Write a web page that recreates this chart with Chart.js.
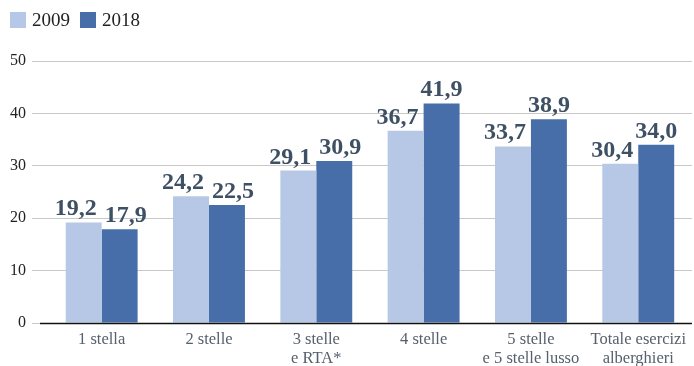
<!DOCTYPE html>
<html lang="it">
<head>
<meta charset="utf-8">
<script src="https://cdn.jsdelivr.net/npm/chart.js@4/dist/chart.umd.min.js"></script>
<style>
  html, body { margin: 0; padding: 0; background: #fff; }
  #wrap { position: relative; width: 694px; height: 366px; }
  #legend { position: absolute; left: 10px; top: 11px; display: flex; align-items: center;
    font: 19px "Liberation Serif", serif; color: #222; }
  #legend .sw { width: 16px; height: 16px; display: inline-block; margin-right: 6px; }
  #legend .it { display: flex; align-items: center; margin-right: 10px; line-height: 18px; }
</style>
</head>
<body>
<div id="wrap">
  <div id="legend"></div>
  <canvas id="ch" width="694" height="366"></canvas>
</div>
<script>
// Tasso di occupazione per categoria di esercizio
const CATEGORIES = [
  '1 stella',
  '2 stelle',
  ['3 stelle', 'e RTA*'],
  '4 stelle',
  ['5 stelle', 'e 5 stelle lusso'],
  ['Totale esercizi', 'alberghieri'],
];
const SERIES_NAMES = ['2009', '2018'];
const VALUES_2009 = [19.2, 24.2, 29.1, 36.7, 33.7, 30.4];
const VALUES_2018 = [17.9, 22.5, 30.9, 41.9, 38.9, 34.0];
const Y_TICKS = [0, 10, 20, 30, 40, 50];

const COLORS = ['#b6c8e6', '#476ea8'];
const FONT = '"Liberation Serif", serif';

// legend
const leg = document.getElementById('legend');
SERIES_NAMES.forEach((n, i) => {
  const it = document.createElement('span');
  it.className = 'it';
  it.innerHTML = `<span class="sw" style="background:${COLORS[i]}"></span>${n}`;
  leg.append(it);
});

const fmt = v => v.toFixed(1).replace('.', ',');

// value labels: 2009 sits right-aligned on its bar, 2018 centred unless it
// would run into the 2009 label, then it is nudged right
const valueLabels = {
  id: 'valueLabels',
  afterDatasetsDraw(chart) {
    const ctx = chart.ctx;
    ctx.save();
    ctx.font = 'bold 24px ' + FONT;
    ctx.fillStyle = '#3e5064';
    ctx.textBaseline = 'alphabetic';
    ctx.textAlign = 'left';
    const m0 = chart.getDatasetMeta(0).data;
    const m1 = chart.getDatasetMeta(1).data;
    const d0 = chart.data.datasets[0].data;
    const d1 = chart.data.datasets[1].data;
    m0.forEach((b0, j) => {
      const b1 = m1[j];
      const t0 = fmt(d0[j]), t1 = fmt(d1[j]);
      const w0 = ctx.measureText(t0).width, w1 = ctx.measureText(t1).width;
      const x0 = b0.x + b0.width / 2 - 5 - w0;
      const y0 = b0.y - 7, y1 = b1.y - 7;
      let x1 = b1.x - w1 / 2;
      if (Math.abs(y0 - y1) < 18) x1 = Math.max(x1, x0 + w0 + 8);
      ctx.fillText(t0, x0, y0);
      ctx.fillText(t1, x1, y1);
    });
    ctx.restore();
  }
};

// dark baseline at zero
const baseline = {
  id: 'baseline',
  afterDatasetsDraw(chart) {
    const { ctx, chartArea, scales } = chart;
    const y = Math.round(scales.y.getPixelForValue(0)) + 0.5;
    ctx.save();
    ctx.strokeStyle = '#111';
    ctx.lineWidth = 1.5;
    ctx.beginPath();
    ctx.moveTo(chartArea.left - 8, y);
    ctx.lineTo(chartArea.right, y);
    ctx.stroke();
    ctx.restore();
  }
};

new Chart(document.getElementById('ch'), {
  type: 'bar',
  data: {
    labels: CATEGORIES,
    datasets: SERIES_NAMES.map((n, i) => ({
      label: n,
      data: i === 0 ? VALUES_2009 : VALUES_2018,
      backgroundColor: COLORS[i],
      borderWidth: 0,
      categoryPercentage: 0.67,
      barPercentage: 1.0,
    })),
  },
  options: {
    responsive: false,
    animation: false,
    layout: { padding: { top: 61, left: 10, right: 0, bottom: 0 } },
    plugins: { legend: { display: false }, tooltip: { enabled: false } },
    scales: {
      x: {
        afterFit: axis => { axis.height = 43; },
        grid: { display: false, drawTicks: false },
        border: { display: false },
        ticks: {
          padding: 8,
          color: '#56606c',
          font: { family: FONT, size: 16.5, lineHeight: 1.1 },
          maxRotation: 0,
          autoSkip: false,
        },
      },
      y: {
        min: 0,
        max: 50,
        afterFit: axis => { axis.width = 38; },
        afterBuildTicks: axis => { axis.ticks = Y_TICKS.map(v => ({ value: v })); },
        grid: { color: '#c8c8c8', lineWidth: 1, tickLength: 16, drawTicks: true, tickColor: '#c8c8c8' },
        border: { display: false },
        ticks: {
          padding: 6,
          color: '#222',
          font: { family: FONT, size: 16 },
        },
      },
    },
  },
  plugins: [valueLabels, baseline],
});
</script>
</body>
</html>
